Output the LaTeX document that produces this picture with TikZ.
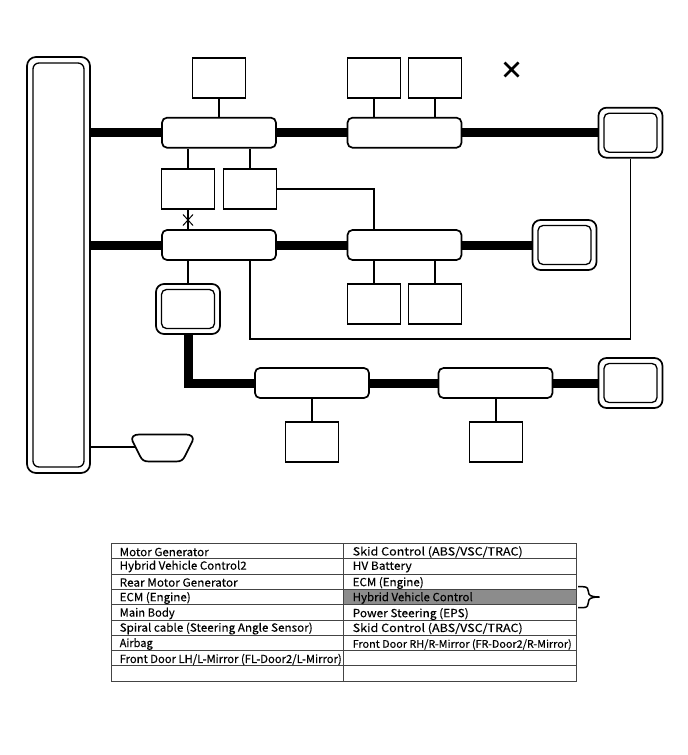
\documentclass[tikz,border=0pt]{standalone}
\usepackage{fontspec}
\usepackage{graphicx}
\setmainfont[FakeBold=0.25]{Noto Sans CJK JP}
\definecolor{gridc}{HTML}{444444}
\definecolor{hilite}{HTML}{8C8C8C}
\newcommand{\fitw}[2]{\resizebox{#1pt}{\height}{#2}}
\tikzset{
  x=1pt,y=-1pt,
  line/.style={line width=1.7pt,black},
  bus/.style={line width=9pt,black},
  plainbox/.style={draw,line width=1.7pt,fill=white,minimum width=53pt,minimum height=40pt,inner sep=0pt},
  module/.style={draw,line width=1.7pt,fill=white,rounded corners=5pt,minimum width=114pt,minimum height=30pt,inner sep=0pt},
  dblouter/.style={draw,line width=1.7pt,fill=white,rounded corners=8pt,minimum width=64pt,minimum height=50pt,inner sep=0pt},
  dblinner/.style={draw,line width=1.3pt,fill=white,rounded corners=5pt,minimum width=53pt,minimum height=39pt,inner sep=0pt},
  cell/.style={anchor=west,inner sep=0pt,font=\fontsize{11.2}{12}\selectfont},
  gridline/.style={line width=.9pt,gridc},
}
\begin{document}
\begin{tikzpicture}
\useasboundingbox (0,0) rectangle (688,755);
% left bus
\node[draw,line width=1.7pt,fill=white,rounded corners=9pt,minimum width=63pt,minimum height=416pt,inner sep=0pt] (gw) at (58.5,265) {};
\node[draw,line width=1.3pt,fill=white,rounded corners=6pt,minimum width=51pt,minimum height=404pt,inner sep=0pt] (gwi) at (58.5,265) {};
% row 1
\node[module] (m1) at (219,132.7) {};
\node[module] (m2) at (404.5,132.7) {};
\node[dblouter] (e1) at (630.5,132.7) {};
\node[dblinner] (e1i) at (630.5,132.7) {};
\node[plainbox] (t1) at (219,78) {};
\node[plainbox] (t2) at (374,78) {};
\node[plainbox] (t3) at (435,78) {};
\node[plainbox] (b1) at (188,189) {};
\node[plainbox] (b2) at (250,189) {};
% row 2
\node[module] (m3) at (219,245) {};
\node[module] (m4) at (404.5,245) {};
\node[dblouter] (e2) at (564.5,245) {};
\node[dblinner] (e2i) at (564.5,245) {};
\node[plainbox] (b3) at (374,304) {};
\node[plainbox] (b4) at (435,304) {};
\node[dblouter] (e3) at (188,309) {};
\node[dblinner] (e3i) at (188,309) {};
% row 3
\node[module] (m5) at (312,383) {};
\node[module] (m6) at (495.5,383) {};
\node[dblouter] (e4) at (630.5,383) {};
\node[dblinner] (e4i) at (630.5,383) {};
\node[plainbox] (b5) at (312,442) {};
\node[plainbox] (b6) at (496,442) {};
% buses
\draw[bus] (gw.east |- m1.west) -- (m1.west);
\draw[bus] (m1.east) -- (m2.west);
\draw[bus] (m2.east) -- (e1.west);
\draw[bus] (gw.east |- m3.west) -- (m3.west);
\draw[bus] (m3.east) -- (m4.west);
\draw[bus] (m4.east) -- (e2.west);
\draw[bus,line cap=butt] (e3.south) -- (e3.south |- m5.west) -- (m5.west);
\draw[bus] (m5.east) -- (m6.west);
\draw[bus] (m6.east) -- (e4.west);
% thin connectors
\draw[line] (t1) -- (m1);
\draw[line] (t2.south) -- (t2.south |- m2.north);
\draw[line] (t3.south) -- (t3.south |- m2.north);
\draw[line] (b1.north) -- (b1.north |- m1.south);
\draw[line] (b2.north) -- (b2.north |- m1.south);
\draw[line] (b1.south) -- (b1.south |- m3.north);
\draw[line] (b2.east) -| (b3.north |- m4.north);
\draw[line] (m3.south -| b2.south) -- (b2.south |- 0,339) -- (e1.south |- 0,339) -- (e1.south);
\draw[line] (b1.south |- m3.south) -- (e3.north);
\draw[line] (b3.north) -- (b3.north |- m4.south);
\draw[line] (b4.north) -- (b4.north |- m4.south);
\draw[line] (b5) -- (m5);
\draw[line] (b6.north) -- (b6.north |- m6.south);
% small cross on CAN line
\coordinate (xs) at (188,220);
\draw[line width=1pt] ([shift={(-5,-5.5)}]xs) -- ([shift={(5,5.5)}]xs) ([shift={(5,-5.5)}]xs) -- ([shift={(-5,5.5)}]xs);
% large cross
\coordinate (xl) at (511.5,69.5);
\draw[line width=2.6pt] ([shift={(-7,-7)}]xl) -- ([shift={(7,7)}]xl) ([shift={(7,-7)}]xl) -- ([shift={(-7,7)}]xl);
% DLC
\coordinate (dlc) at (135.5,447);
\draw[line] (gw.east |- dlc) -- (dlc);
\draw[line,fill=white] (139,434.5) -- (186,434.5) .. controls (191,434.5) and (194,437) .. (192.5,441) -- (185,456) .. controls (183,460) and (181,461.5) .. (176,461.5) -- (149,461.5) .. controls (144,461.5) and (142,460) .. (140,456) -- (132.5,441) .. controls (131,437) and (134,434.5) .. (139,434.5) -- cycle;
% table
\fill[hilite] (343.5,589.3) rectangle (576.5,604.7);
\draw[gridline] (111.5,543.3) rectangle (576.5,681.3);
\draw[gridline] (343.5,543.3) -- (343.5,681.3);
\foreach \yy in {558.3,574,589.3,604.7,620.3,635.3,650.7,665.7} \draw[gridline] (111.5,\yy) -- (576.5,\yy);
\node[cell] (l1) at (119.5,552) {\fitw{89}{Motor Generator}};
\node[cell] (l2) at (119.5,566.5) {\fitw{127}{Hybrid Vehicle Control2}};
\node[cell] (l3) at (119.5,582.5) {\fitw{118}{Rear Motor Generator}};
\node[cell] (l4) at (119.5,598) {\fitw{71}{ECM (Engine)}};
\node[cell] (l5) at (119.5,613.5) {\fitw{55}{Main Body}};
\node[cell] (l6) at (119.5,628.5) {\fitw{193}{Spiral cable (Steering Angle Sensor)}};
\node[cell] (l7) at (119.5,644) {\fitw{33}{Airbag}};
\node[cell] (l8) at (119.5,659.5) {\fitw{222}{Front Door LH/L-Mirror (FL-Door2/L-Mirror)}};
\node[cell] (r1) at (352.5,552) {\fitw{170}{Skid Control (ABS/VSC/TRAC)}};
\node[cell] (r2) at (352.5,567) {\fitw{59}{HV Battery}};
\node[cell] (r3) at (352.5,583) {\fitw{71}{ECM (Engine)}};
\node[cell] (r4) at (352.5,598) {\fitw{120}{Hybrid Vehicle Control}};
\node[cell] (r5) at (352.5,614) {\fitw{116}{Power Steering (EPS)}};
\node[cell] (r6) at (352.5,628.5) {\fitw{170}{Skid Control (ABS/VSC/TRAC)}};
\node[cell] (r7) at (352.5,644.5) {\fitw{219}{\fontsize{10.4}{12}\selectfont Front Door RH/R-Mirror (FR-Door2/R-Mirror)}};
% brace
\draw[line,line width=1.5pt] (578,586.7) -- (583,586.7) .. controls (587.5,586.7) and (588.5,589) .. (588.5,592) .. controls (588.5,595) and (590,597) .. (599.5,597) (599.5,597) .. controls (590,597) and (588.5,599) .. (588.5,602) .. controls (588.5,605) and (587.5,607.7) .. (583,607.7) -- (578,607.7);
\end{tikzpicture}
\end{document}
